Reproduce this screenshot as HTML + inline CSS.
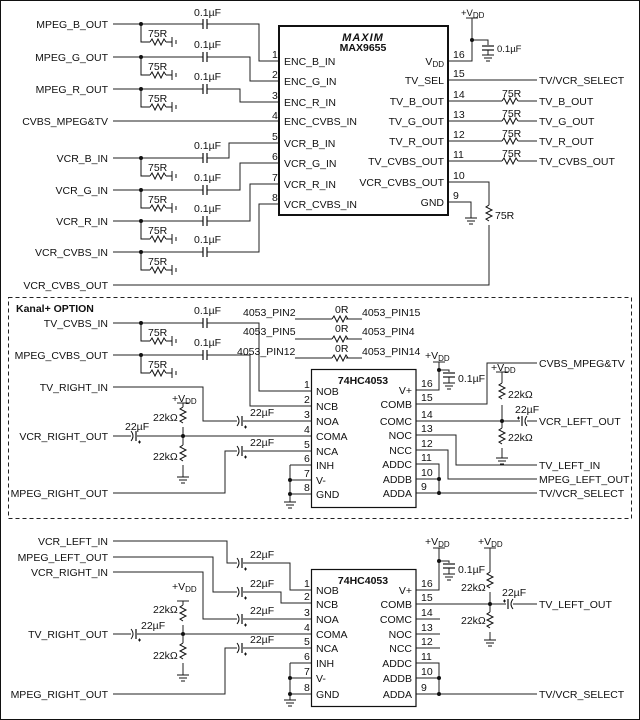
<!DOCTYPE html>
<html><head><meta charset="utf-8"><style>
html,body{margin:0;padding:0;background:#fff}
svg{display:block}
text{font-family:"Liberation Sans",Arial,sans-serif;font-size:10.5px;fill:#111}
.s{font-size:9.5px}
.b{font-weight:bold}
</style></head><body>
<svg width="640" height="720" viewBox="0 0 640 720" xmlns="http://www.w3.org/2000/svg">
<defs>
<path id="rh" d="M0,0 l2,-3 l3,6 l3,-6 l3,6 l3,-6 l2,3" fill="none" stroke="#111" stroke-width="1"/>
<path id="rv" d="M0,0 l-3,2 l6,3 l-6,3 l6,3 l-6,3 l3,2" fill="none" stroke="#111" stroke-width="1"/>
<g id="gnd" stroke="#111" stroke-width="1"><line x1="-6" y1="0" x2="6" y2="0"/><line x1="-4" y1="3" x2="4" y2="3"/><line x1="-2" y1="6" x2="2" y2="6"/></g>
<g id="sh" stroke="#111" stroke-width="1" fill="none"><path d="M0,0 V18 H9"/><use href="#rh" x="9" y="18"/><line x1="25" y1="18" x2="31" y2="18"/><line x1="31" y1="13" x2="31" y2="23"/><line x1="35" y1="16" x2="35" y2="20"/></g>
<g id="cs" stroke="#111" stroke-width="1.2"><line x1="0" y1="-5" x2="0" y2="5"/><line x1="4" y1="-5" x2="4" y2="5"/></g>
<g id="ce" stroke="#111" stroke-width="1" fill="none"><path d="M-1,-5 Q3,0 -1,5"/><line x1="4" y1="-5" x2="4" y2="5" stroke-width="1.2"/><line x1="6" y1="6" x2="9" y2="6"/><line x1="7.5" y1="4.5" x2="7.5" y2="7.5"/></g>
<g id="ce2" stroke="#111" stroke-width="1" fill="none"><path d="M5,-5 Q1,0 5,5"/><line x1="0" y1="-5" x2="0" y2="5" stroke-width="1.2"/><line x1="-5" y1="-3" x2="-2" y2="-3"/><line x1="-3.5" y1="-4.5" x2="-3.5" y2="-1.5"/></g>
<g id="cv" stroke="#111" stroke-width="1.2"><line x1="-6" y1="0" x2="6" y2="0"/><line x1="-6" y1="4" x2="6" y2="4"/></g>
</defs>
<rect x="0.5" y="0.5" width="639" height="719" fill="none" stroke="#111"/>
<g stroke="#222" stroke-width="1" fill="none">
<!-- MAX9655 inputs -->
<path d="M113,24 H203 M207,24 H259 V61 H279"/>
<path d="M113,57 H203 M207,57 H250 V81 H279"/>
<path d="M113,89 H203 M207,89 H240 V102 H279"/>
<path d="M113,121 H279"/>
<path d="M113,158 H203 M207,158 H229 V143 H279"/>
<path d="M113,190 H203 M207,190 H240 V163 H279"/>
<path d="M113,221 H203 M207,221 H250 V184 H279"/>
<path d="M113,252 H203 M207,252 H259 V204 H279"/>
<path d="M113,285 H489 V225 M489,205 V182 H448"/>
<path d="M448,61 H472 V18 M466,18 H478 M472,40 H488 V45 M488,50 V55"/>
<path d="M448,80 H537 M448,101 H502 M518,101 H537 M448,121 H502 M518,121 H537 M448,141 H502 M518,141 H537 M448,161 H502 M518,161 H537"/>
<path d="M448,202 H471 V218"/>
<!-- middle -->
<path d="M113,323 H203 M207,323 H259 V391 H311"/>
<path d="M113,355 H203 M207,355 H250 V406 H311"/>
<path d="M113,387 H203 V421 H237 M243,421 H311"/>
<path d="M113,436 H131 M137,436 H311"/>
<path d="M113,493 H225 V451 H237 M243,451 H311"/>
<path d="M183,403 V407 M177,403 H189 M183,427 V445 M183,465 V477"/>
<path d="M290,465 V502 M290,465 H311 M290,480 H311 M290,494 H311"/>
<path d="M295,319 H332 M346,319 H362 M295,339 H332 M346,339 H362 M295,358 H332 M346,358 H362"/>
<path d="M416,390 H439 V362 M433,362 H445 M439,370 H449 V372 M449,377 V383"/>
<path d="M416,404 H487 V363 H537"/>
<path d="M416,421 H520 M527,421 H537 M502,372 V383 M496,372 H508 M502,405 V428 M502,448 V458"/>
<path d="M416,435 H456 V465 H537 M416,450 H448 V479 H537"/>
<path d="M416,464 H439 V493 M416,479 H439 M416,493 H537"/>
<!-- bottom -->
<path d="M113,541 H227 V563 H237 M243,563 H290 V590 H311"/>
<path d="M113,557 H213 V592 H237 M243,592 H281 V603 H311"/>
<path d="M113,572 H203 V619 H237 M243,619 H311"/>
<path d="M113,634 H131 M137,634 H311"/>
<path d="M113,694 H225 V648 H237 M243,648 H311"/>
<path d="M183,601 V605 M177,601 H189 M183,625 V643 M183,663 V675"/>
<path d="M290,663 V700 M290,663 H311 M290,678 H311 M290,694 H311"/>
<path d="M416,590 H439 V548 M433,548 H445 M439,561 H449 V563 M449,568 V574"/>
<path d="M490,548 V572 M484,548 H496 M416,604 H506 M513,604 H537 M490,592 V612 M490,632 V640"/>
<path d="M416,619 H440 M416,634 H440 M416,648 H440"/>
<path d="M416,663 H439 V694 M416,678 H439 M416,694 H537"/>
</g>
<!-- dashed box -->
<rect x="8.5" y="297.5" width="623" height="221" fill="none" stroke="#222" stroke-dasharray="4,3"/>
<!-- chips -->
<rect x="279" y="26" width="169" height="189" fill="#fff" stroke="#111" stroke-width="2"/>
<rect x="311.5" y="369.5" width="104.5" height="138" fill="#fff" stroke="#111" stroke-width="1.2"/>
<rect x="311.5" y="569.5" width="104.5" height="137" fill="#fff" stroke="#111" stroke-width="1.2"/>
<!-- shunts and caps -->
<g fill="#111">
<circle cx="141" cy="24" r="2"/><circle cx="141" cy="57" r="2"/><circle cx="141" cy="89" r="2"/>
<circle cx="141" cy="158" r="2"/><circle cx="141" cy="190" r="2"/><circle cx="141" cy="221" r="2"/><circle cx="141" cy="252" r="2"/>
<circle cx="141" cy="323" r="2"/><circle cx="141" cy="355" r="2"/>
<circle cx="472" cy="40" r="2"/><circle cx="183" cy="436" r="2"/><circle cx="290" cy="480" r="2"/><circle cx="290" cy="494" r="2"/>
<circle cx="439" cy="370" r="2"/><circle cx="502" cy="421" r="2"/><circle cx="439" cy="479" r="2"/><circle cx="439" cy="493" r="2"/>
<circle cx="183" cy="634" r="2"/><circle cx="290" cy="678" r="2"/><circle cx="290" cy="694" r="2"/>
<circle cx="439" cy="561" r="2"/><circle cx="490" cy="604" r="2"/><circle cx="439" cy="678" r="2"/><circle cx="439" cy="694" r="2"/>
</g>
<use href="#sh" x="141" y="24"/><use href="#sh" x="141" y="57"/><use href="#sh" x="141" y="89"/>
<use href="#sh" x="141" y="158"/><use href="#sh" x="141" y="190"/><use href="#sh" x="141" y="221"/><use href="#sh" x="141" y="252"/>
<use href="#sh" x="141" y="323"/><use href="#sh" x="141" y="355"/>
<use href="#cs" x="203" y="24"/><use href="#cs" x="203" y="57"/><use href="#cs" x="203" y="89"/>
<use href="#cs" x="203" y="158"/><use href="#cs" x="203" y="190"/><use href="#cs" x="203" y="221"/><use href="#cs" x="203" y="252"/>
<use href="#cs" x="203" y="323"/><use href="#cs" x="203" y="355"/>
<use href="#cv" x="488" y="46"/><use href="#gnd" x="488" y="55"/>
<use href="#rv" x="489" y="205"/><use href="#gnd" x="471" y="218"/>
<use href="#rh" x="502" y="101"/><use href="#rh" x="502" y="121"/><use href="#rh" x="502" y="141"/><use href="#rh" x="502" y="161"/>
<use href="#rh" x="332" y="319"/><use href="#rh" x="332" y="339"/><use href="#rh" x="332" y="358"/>
<use href="#ce" x="238" y="421"/><use href="#ce" x="132" y="436"/><use href="#ce" x="238" y="451"/>
<use href="#rv" x="183" y="407"/><use href="#rv" x="183" y="445"/><use href="#gnd" x="183" y="477"/><use href="#gnd" x="290" y="502"/>
<use href="#cv" x="449" y="373"/><use href="#gnd" x="449" y="383"/>
<use href="#rv" x="502" y="383"/><use href="#rv" x="502" y="428"/><use href="#gnd" x="502" y="458"/><use href="#ce2" x="522" y="421"/>
<use href="#ce" x="238" y="563"/><use href="#ce" x="238" y="592"/><use href="#ce" x="238" y="619"/><use href="#ce" x="132" y="634"/><use href="#ce" x="238" y="648"/>
<use href="#rv" x="183" y="605"/><use href="#rv" x="183" y="643"/><use href="#gnd" x="183" y="675"/><use href="#gnd" x="290" y="700"/>
<use href="#cv" x="449" y="564"/><use href="#gnd" x="449" y="574"/>
<use href="#rv" x="490" y="572"/><use href="#rv" x="490" y="612"/><use href="#gnd" x="490" y="640"/><use href="#ce2" x="508" y="604"/>
<!-- labels left top -->
<g text-anchor="end">
<text x="108" y="28">MPEG_B_OUT</text><text x="108" y="61">MPEG_G_OUT</text><text x="108" y="93">MPEG_R_OUT</text><text x="108" y="125">CVBS_MPEG&amp;TV</text>
<text x="108" y="162">VCR_B_IN</text><text x="108" y="194">VCR_G_IN</text><text x="108" y="225">VCR_R_IN</text><text x="108" y="256">VCR_CVBS_IN</text><text x="108" y="289">VCR_CVBS_OUT</text>
<text x="108" y="327">TV_CVBS_IN</text><text x="108" y="359">MPEG_CVBS_OUT</text><text x="108" y="391">TV_RIGHT_IN</text><text x="108" y="440">VCR_RIGHT_OUT</text><text x="108" y="497">MPEG_RIGHT_OUT</text>
<text x="108" y="545">VCR_LEFT_IN</text><text x="108" y="561">MPEG_LEFT_OUT</text><text x="108" y="576">VCR_RIGHT_IN</text><text x="108" y="638">TV_RIGHT_OUT</text><text x="108" y="698">MPEG_RIGHT_OUT</text>
</g>
<g class="s">
<text x="148" y="37">75R</text><text x="148" y="70">75R</text><text x="148" y="102">75R</text><text x="148" y="171">75R</text><text x="148" y="203">75R</text><text x="148" y="234">75R</text><text x="148" y="265">75R</text><text x="148" y="336">75R</text><text x="148" y="368">75R</text>
<text x="194" y="16">0.1µF</text><text x="194" y="48">0.1µF</text><text x="194" y="80">0.1µF</text><text x="194" y="149">0.1µF</text><text x="194" y="181">0.1µF</text><text x="194" y="212">0.1µF</text><text x="194" y="243">0.1µF</text><text x="194" y="314">0.1µF</text><text x="194" y="346">0.1µF</text>
</g>
<!-- MAX9655 -->
<text x="363" y="41" text-anchor="middle" class="b" style="font-style:italic;font-size:11px;letter-spacing:1px">MAXIM</text>
<text x="363" y="51" text-anchor="middle" class="b">MAX9655</text>
<g class="s"><text x="272" y="58">1</text><text x="272" y="78">2</text><text x="272" y="99">3</text><text x="272" y="119">4</text><text x="272" y="140">5</text><text x="272" y="160">6</text><text x="272" y="181">7</text><text x="272" y="201">8</text>
<text x="453" y="58">16</text><text x="453" y="77">15</text><text x="453" y="98">14</text><text x="453" y="118">13</text><text x="453" y="138">12</text><text x="453" y="158">11</text><text x="453" y="179">10</text><text x="453" y="199">9</text></g>
<g><text x="284" y="65">ENC_B_IN</text><text x="284" y="85">ENC_G_IN</text><text x="284" y="106">ENC_R_IN</text><text x="284" y="125">ENC_CVBS_IN</text><text x="284" y="147">VCR_B_IN</text><text x="284" y="167">VCR_G_IN</text><text x="284" y="188">VCR_R_IN</text><text x="284" y="208">VCR_CVBS_IN</text></g>
<g text-anchor="end"><text x="444" y="65">V<tspan dy="2" font-size="8">DD</tspan></text><text x="444" y="84">TV_SEL</text><text x="444" y="105">TV_B_OUT</text><text x="444" y="125">TV_G_OUT</text><text x="444" y="145">TV_R_OUT</text><text x="444" y="165">TV_CVBS_OUT</text><text x="444" y="186">VCR_CVBS_OUT</text><text x="444" y="206">GND</text></g>
<text x="461" y="16" class="s">+V<tspan dy="2" font-size="8">DD</tspan></text>
<text x="497" y="52" class="s">0.1µF</text>
<g><text x="539" y="84">TV/VCR_SELECT</text><text x="539" y="105">TV_B_OUT</text><text x="539" y="125">TV_G_OUT</text><text x="539" y="145">TV_R_OUT</text><text x="539" y="165">TV_CVBS_OUT</text></g>
<g class="s"><text x="502" y="97">75R</text><text x="502" y="117">75R</text><text x="502" y="137">75R</text><text x="502" y="157">75R</text><text x="495" y="219">75R</text></g>
<!-- middle -->
<text x="16" y="312" class="b">Kanal+ OPTION</text>
<g class="s"><text x="243" y="316">4053_PIN2</text><text x="243" y="335">4053_PIN5</text><text x="237" y="355">4053_PIN12</text>
<text x="335" y="313">0R</text><text x="335" y="332">0R</text><text x="335" y="352">0R</text>
<text x="362" y="316">4053_PIN15</text><text x="362" y="335">4053_PIN4</text><text x="362" y="355">4053_PIN14</text>
<text x="425" y="359">+V<tspan dy="2" font-size="8">DD</tspan></text><text x="458" y="382">0.1µF</text>
<text x="491" y="371">+V<tspan dy="2" font-size="8">DD</tspan></text><text x="508" y="398">22kΩ</text><text x="508" y="441">22kΩ</text><text x="515" y="413">22µF</text>
<text x="172" y="402">+V<tspan dy="2" font-size="8">DD</tspan></text><text x="153" y="421">22kΩ</text><text x="153" y="460">22kΩ</text>
<text x="125" y="430">22µF</text><text x="250" y="416">22µF</text><text x="250" y="446">22µF</text>
</g>
<text x="363" y="384" text-anchor="middle" class="b">74HC4053</text>
<g class="s"><text x="304" y="388">1</text><text x="304" y="403">2</text><text x="304" y="418">3</text><text x="304" y="433">4</text><text x="304" y="448">5</text><text x="304" y="462">6</text><text x="304" y="477">7</text><text x="304" y="491">8</text>
<text x="421" y="387">16</text><text x="421" y="401">15</text><text x="421" y="418">14</text><text x="421" y="432">13</text><text x="421" y="447">12</text><text x="421" y="461">11</text><text x="421" y="476">10</text><text x="421" y="490">9</text></g>
<g class="s"><text x="316" y="395">NOB</text><text x="316" y="410">NCB</text><text x="316" y="425">NOA</text><text x="316" y="440">COMA</text><text x="316" y="455">NCA</text><text x="316" y="469">INH</text><text x="316" y="484">V-</text><text x="316" y="498">GND</text></g>
<g class="s" text-anchor="end"><text x="412" y="394">V+</text><text x="412" y="408">COMB</text><text x="412" y="425">COMC</text><text x="412" y="439">NOC</text><text x="412" y="454">NCC</text><text x="412" y="468">ADDC</text><text x="412" y="483">ADDB</text><text x="412" y="497">ADDA</text></g>
<g><text x="539" y="367">CVBS_MPEG&amp;TV</text><text x="539" y="425">VCR_LEFT_OUT</text><text x="539" y="469">TV_LEFT_IN</text><text x="539" y="483">MPEG_LEFT_OUT</text><text x="539" y="497">TV/VCR_SELECT</text></g>
<!-- bottom -->
<text x="363" y="584" text-anchor="middle" class="b">74HC4053</text>
<g class="s"><text x="304" y="587">1</text><text x="304" y="600">2</text><text x="304" y="616">3</text><text x="304" y="631">4</text><text x="304" y="645">5</text><text x="304" y="660">6</text><text x="304" y="675">7</text><text x="304" y="691">8</text>
<text x="421" y="587">16</text><text x="421" y="601">15</text><text x="421" y="616">14</text><text x="421" y="631">13</text><text x="421" y="645">12</text><text x="421" y="660">11</text><text x="421" y="675">10</text><text x="421" y="691">9</text></g>
<g class="s"><text x="316" y="594">NOB</text><text x="316" y="608">NCB</text><text x="316" y="623">NOA</text><text x="316" y="638">COMA</text><text x="316" y="652">NCA</text><text x="316" y="667">INH</text><text x="316" y="682">V-</text><text x="316" y="698">GND</text></g>
<g class="s" text-anchor="end"><text x="412" y="594">V+</text><text x="412" y="608">COMB</text><text x="412" y="623">COMC</text><text x="412" y="638">NOC</text><text x="412" y="652">NCC</text><text x="412" y="667">ADDC</text><text x="412" y="682">ADDB</text><text x="412" y="698">ADDA</text></g>
<g class="s"><text x="250" y="558">22µF</text><text x="250" y="587">22µF</text><text x="250" y="614">22µF</text><text x="250" y="643">22µF</text><text x="141" y="629">22µF</text>
<text x="172" y="590">+V<tspan dy="2" font-size="8">DD</tspan></text><text x="153" y="613">22kΩ</text><text x="153" y="659">22kΩ</text>
<text x="425" y="545">+V<tspan dy="2" font-size="8">DD</tspan></text><text x="458" y="573">0.1µF</text>
<text x="478" y="545">+V<tspan dy="2" font-size="8">DD</tspan></text><text x="461" y="591">22kΩ</text><text x="461" y="624">22kΩ</text><text x="502" y="596">22µF</text></g>
<g><text x="539" y="608">TV_LEFT_OUT</text><text x="539" y="698">TV/VCR_SELECT</text></g>
</svg>
</body></html>
